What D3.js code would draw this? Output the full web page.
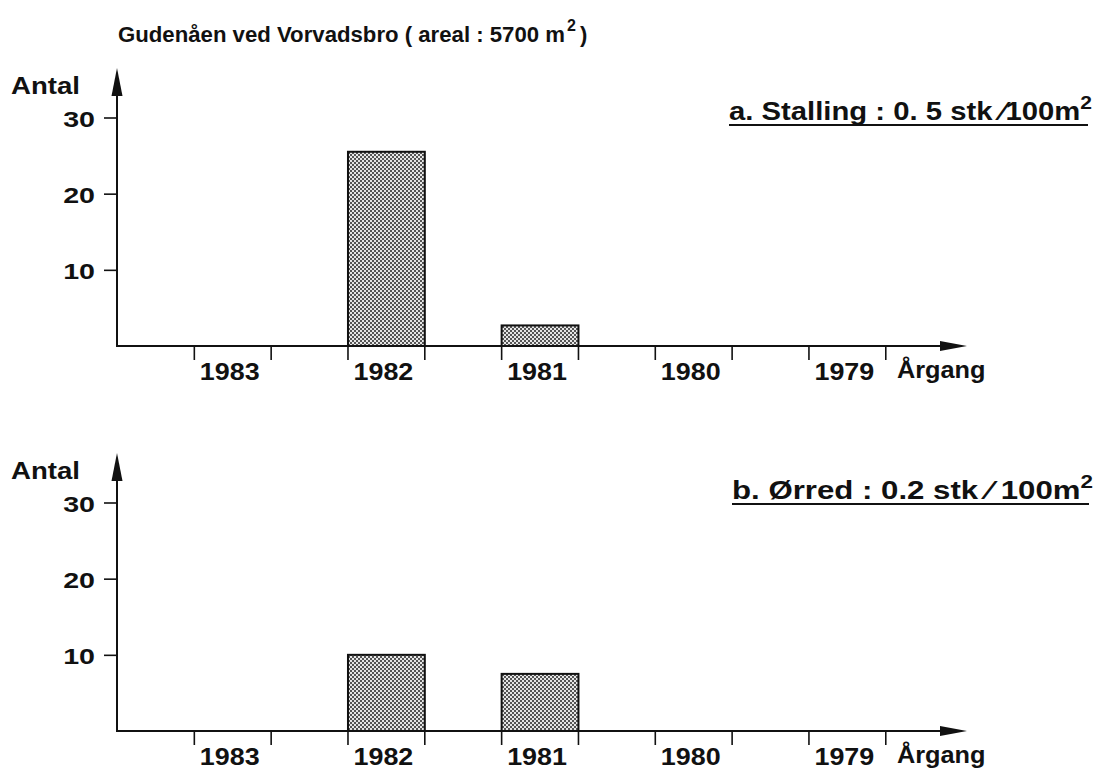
<!DOCTYPE html>
<html><head><meta charset="utf-8">
<script src="https://cdn.jsdelivr.net/npm/d3@7"></script>
<style>
body{margin:0;background:#fff}
text{font-family:"Liberation Sans",Arial,Helvetica,sans-serif;font-weight:bold;fill:#111}
</style>
</head><body>
<svg id="c" width="1109" height="771"></svg>
<script>
// ---- data ----
const chartTitle = "Gudenåen ved Vorvadsbro ( areal : 5700 m";
const titleSup = "2";
const titleClose = ")";
const categories = ["1983", "1982", "1981", "1980", "1979"];
const yTickValues = [10, 20, 30];
const yAxisLabel = "Antal";
const xAxisLabel = "Årgang";
const panelLabels = ["a. Stalling : 0. 5 stk ⁄100m", "b. Ørred : 0.2 stk ⁄ 100m"];
const stallingCounts = [0, 25.5, 2.7, 0, 0];
const orredCounts = [0, 10, 7.5, 0, 0];

// ---- drawing ----
const svg = d3.select("#c");
svg.append("rect").attr("width", 1109).attr("height", 771).attr("fill", "#fff");

const defs = svg.append("defs");
const pat = defs.append("pattern").attr("id", "dots")
  .attr("width", 4).attr("height", 4).attr("patternUnits", "userSpaceOnUse");
pat.append("rect").attr("width", 4).attr("height", 4).attr("fill", "#e6e6e6");
pat.append("rect").attr("width", 2).attr("height", 2).attr("fill", "#555");
pat.append("rect").attr("x", 2).attr("y", 2).attr("width", 2).attr("height", 2).attr("fill", "#555");

// title
svg.append("text").attr("x", 118).attr("y", 42).attr("font-size", 22)
  .attr("textLength", 447).attr("lengthAdjust", "spacingAndGlyphs")
  .text(chartTitle);
svg.append("text").attr("x", 567).attr("y", 31).attr("font-size", 16).text(titleSup);
svg.append("text").attr("x", 580).attr("y", 42).attr("font-size", 22).text(titleClose);

const axisX = 117;
const x = d3.scaleBand().domain(categories).range([117.5, 962.6])
  .paddingInner(0.5).paddingOuter(0.5);
const bw = x.bandwidth();

const panels = [
  {values: stallingCounts, label: panelLabels[0], base: 346, labelX: 729, labelY: 120, labelW: 363},
  {values: orredCounts, label: panelLabels[1], base: 731, labelX: 732, labelY: 499, labelW: 361}
];

panels.forEach(p => {
  const g = svg.append("g");
  const y = d3.scaleLinear().domain([0, 30]).range([p.base, p.base - 228.5]);

  // bars
  const data = categories.map((c, i) => ({c, v: p.values[i]})).filter(d => d.v > 0);
  g.selectAll("rect.bar").data(data).enter().append("rect").attr("class", "bar")
    .attr("x", d => x(d.c)).attr("y", d => y(d.v))
    .attr("width", bw).attr("height", d => p.base - y(d.v))
    .attr("fill", "url(#dots)").attr("stroke", "#111").attr("stroke-width", 2);

  // y axis ticks + labels
  const ya = g.append("g").attr("transform", `translate(${axisX},0)`)
    .call(d3.axisLeft(y).tickValues(yTickValues).tickSize(13).tickFormat(d3.format("d")));
  ya.select(".domain").remove();
  ya.selectAll(".tick line").attr("stroke", "#111").attr("stroke-width", 1.6);
  ya.selectAll(".tick text").attr("x", null).attr("dy", null)
    .attr("dominant-baseline", "central")
    .attr("font-size", 22).attr("fill", "#111").attr("font-family", null)
    .attr("text-anchor", "end")
    .attr("transform", "translate(-22,1) scale(1.3,1)");

  // y axis line + arrow
  g.append("line").attr("x1", axisX).attr("x2", axisX).attr("y1", p.base + 1).attr("y2", p.base - 255)
    .attr("stroke", "#111").attr("stroke-width", 2);
  g.append("path").attr("d", `M${axisX},${p.base - 278} L${axisX + 5.5},${p.base - 250} L${axisX - 5.5},${p.base - 250} Z`)
    .attr("fill", "#111");

  // x axis line + arrow
  g.append("line").attr("x1", axisX - 1).attr("x2", 945).attr("y1", p.base).attr("y2", p.base)
    .attr("stroke", "#111").attr("stroke-width", 2);
  g.append("path").attr("d", `M967,${p.base} L940,${p.base - 5} L940,${p.base + 5} Z`).attr("fill", "#111");

  // x ticks at band edges
  const edges = [];
  categories.forEach(c => { edges.push(x(c)); edges.push(x(c) + bw); });
  g.selectAll("line.xt").data(edges).enter().append("line").attr("class", "xt")
    .attr("x1", d => d).attr("x2", d => d).attr("y1", p.base).attr("y2", p.base + 14)
    .attr("stroke", "#111").attr("stroke-width", 1.6);

  // x labels
  g.selectAll("text.xl").data(categories).enter().append("text").attr("class", "xl")
    .attr("text-anchor", "middle").attr("font-size", 24)
    .attr("transform", d => `translate(${x(d) + bw / 2 - 3},${p.base + 34}) scale(1.12,1)`)
    .text(d => d);

  g.append("text").attr("font-size", 23)
    .attr("transform", `translate(897,${p.base + 32}) scale(1.1,1)`).text(xAxisLabel);

  g.append("text").attr("font-size", 23)
    .attr("transform", `translate(11,${p.base - 252}) scale(1.2,1)`).text(yAxisLabel);

  // panel label with underline
  const pl = g.append("text").attr("x", p.labelX).attr("y", p.labelY).attr("font-size", 25)
    .attr("textLength", p.labelW).attr("lengthAdjust", "spacingAndGlyphs");
  pl.append("tspan").text(p.label);
  pl.append("tspan").attr("font-size", 18).attr("dy", -11).text("2");
  g.append("line").attr("x1", p.labelX).attr("x2", p.labelX + p.labelW - 4)
    .attr("y1", p.labelY + 5).attr("y2", p.labelY + 5)
    .attr("stroke", "#111").attr("stroke-width", 1.8);
});
</script>
</body></html>
